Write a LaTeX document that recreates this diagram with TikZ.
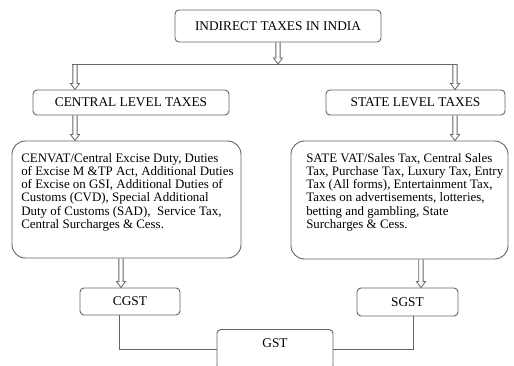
\documentclass[tikz,border=0pt]{standalone}
\usepackage{fontspec}
\setmainfont{Liberation Serif}
\usetikzlibrary{calc}
\tikzset{
  tbox/.style={draw=black!60, line width=0.7pt, rounded corners=3pt, inner sep=0pt,
    font=\fontsize{10pt}{9.9pt}\selectfont},
  lbox/.style={tbox, rounded corners=10pt},
  ltext/.style={anchor=north west, inner sep=0pt, align=left,
    font=\fontsize{9.7pt}{9.9pt}\selectfont},
  link/.style={draw=black!60, line width=0.7pt},
  hollow/.style={draw=black!60, line width=0.6pt, to path={
    let \p1=(\tikztostart), \p2=(\tikztotarget) in
    (\x1-1.6pt,\y1) -- (\x1-1.6pt,\y2+4.5pt) -- (\x1-3.4pt,\y2+4.5pt) -- (\x1,\y2)
    -- (\x1+3.4pt,\y2+4.5pt) -- (\x1+1.6pt,\y2+4.5pt) -- (\x1+1.6pt,\y1)}}
}
\begin{document}
\begin{tikzpicture}[x=0.75pt, y=-0.75pt]
\useasboundingbox (0,0) rectangle (514,365);

\node[tbox, minimum width=154.5pt, minimum height=24pt] (india) at (278,26) {INDIRECT TAXES IN INDIA};
\node[tbox, minimum width=147pt, minimum height=18.75pt] (central) at (131,102.5) {CENTRAL LEVEL TAXES};
\node[tbox, minimum width=134.25pt, minimum height=18.75pt] (state) at (415.5,102.5) {STATE LEVEL TAXES};

\node[lbox, minimum width=171.75pt, minimum height=87.75pt] (cdet) at (126.5,199.5) {};
\node[ltext] (cdettext) at (21,153) {%
CENVAT/Central Excise Duty, Duties\\
of Excise M \&TP Act, Additional Duties\\
of Excise on GSI, Additional Duties of\\
Customs (CVD), Special Additional\\
Duty of Customs (SAD), \ Service Tax,\\
Central Surcharges \& Cess.};
\node[lbox, minimum width=162.75pt, minimum height=88.5pt] (sdet) at (399.5,200) {};
\node[ltext] (sdettext) at (306,153) {%
SATE VAT/Sales Tax, Central Sales\\
Tax, Purchase Tax, Luxury Tax, Entry\\
Tax (All forms), Entertainment Tax,\\
Taxes on advertisements, lotteries,\\
betting and gambling, State\\
Surcharges \& Cess.};

\node[tbox, minimum width=75pt, minimum height=20.25pt] (cgst) at (130,301.5) {CGST};
\node[tbox, minimum width=75.75pt, minimum height=21pt] (sgst) at (407.5,302) {SGST};
\node[tbox, minimum width=87pt, minimum height=30pt, text depth=9pt, anchor=north] (gst) at (275,329) {GST};

\coordinate (busL) at (75,64);
\coordinate (busR) at (455,64);
\coordinate (cin) at ([xshift=-6.75pt]cgst.north);
\coordinate (sin) at ([xshift=10.1pt]sgst.north);

\draw[link] ([xshift=-2.5pt]busL) -- ([xshift=1.5pt]busR);
\draw[hollow] (india.south) to (india.south |- busL);
\draw[hollow] (busL) to (central.north -| busL);
\draw[hollow] (busR) to (state.north -| busR);
\draw[hollow] (central.south -| busL) to (cdet.north -| busL);
\draw[hollow] (state.south -| busR) to (sdet.north -| busR);
\draw[hollow] (cin |- cdet.south) to (cin);
\draw[hollow] (sin |- sdet.south) to (sin);

\draw[link] ([xshift=-8.25pt]cgst.south) |- (gst.west);
\draw[link] ([xshift=4.1pt]sgst.south) |- (gst.east);
\end{tikzpicture}
\end{document}
